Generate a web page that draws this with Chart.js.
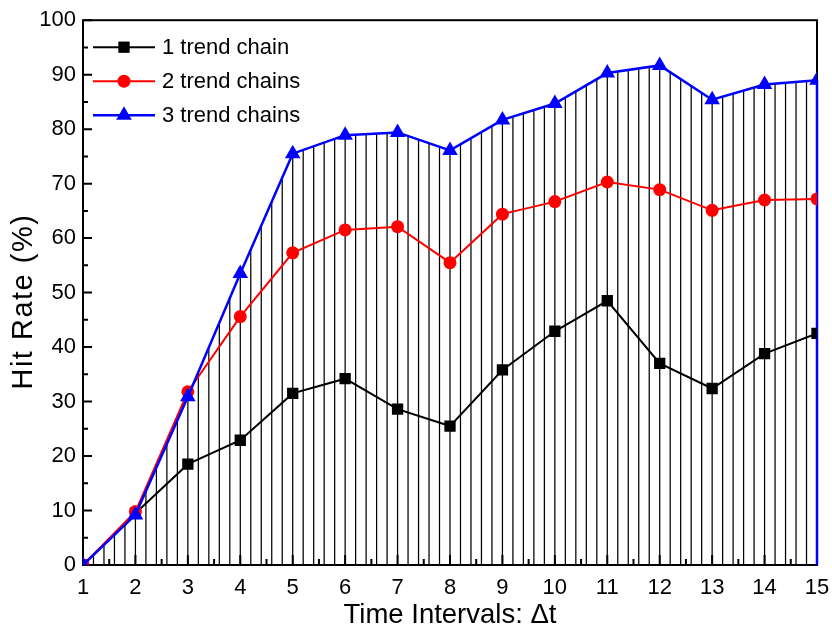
<!DOCTYPE html>
<html>
<head>
<meta charset="utf-8">
<script src="https://cdn.jsdelivr.net/npm/chart.js@4/dist/chart.umd.min.js"></script>
<style>
  html, body { margin: 0; padding: 0; background: #fff; }
  #wrap { width: 832px; height: 634px; }
</style>
</head>
<body>
<div id="wrap"><canvas id="hitChart" width="832" height="634"></canvas></div>
<script>
const intervals = [1, 2, 3, 4, 5, 6, 7, 8, 9, 10, 11, 12, 13, 14, 15];
const oneChain = [0, 9.5, 18.5, 22.9, 31.5, 34.2, 28.6, 25.5, 35.8, 42.9, 48.5, 37.0, 32.4, 38.8, 42.5];
const twoChains = [0, 9.8, 31.8, 45.6, 57.3, 61.5, 62.1, 55.5, 64.4, 66.7, 70.3, 68.9, 65.1, 67.0, 67.2];
const threeChains = [0, 9.2, 30.9, 53.5, 75.5, 78.9, 79.4, 76.1, 81.7, 84.7, 90.3, 91.7, 85.4, 88.2, 89.0];
const seriesNames = ["1 trend chain", "2 trend chains", "3 trend chains"];
const yTitle = "Hit Rate (%)";
const xTitle = "Time Intervals: Δt";

const FONT = "'Liberation Sans', Arial, sans-serif";
const hatchStep = 0.2;

function toPoints(values) {
  return values.map((v, i) => ({ x: intervals[i], y: v }));
}

// vertical hatching under the top series, then the boxed frame with inward ticks
const hatchAndFrame = {
  id: "hatchAndFrame",
  beforeDatasetsDraw(chart) {
    const ctx = chart.ctx;
    const area = chart.chartArea;
    const xs = chart.scales.x;
    const ys = chart.scales.y;
    const pts = chart.getDatasetMeta(2).data;
    const base = ys.getPixelForValue(0);

    ctx.save();
    ctx.beginPath();
    ctx.moveTo(pts[0].x, base);
    pts.forEach((p) => ctx.lineTo(p.x, p.y));
    ctx.lineTo(pts[pts.length - 1].x, base);
    ctx.closePath();
    ctx.clip();
    ctx.strokeStyle = "#000";
    ctx.lineWidth = 1.25;
    const n = Math.round((xs.max - xs.min) / hatchStep);
    ctx.beginPath();
    for (let k = 0; k <= n; k++) {
      const px = xs.getPixelForValue(xs.min + k * hatchStep);
      ctx.moveTo(px, area.top);
      ctx.lineTo(px, base);
    }
    ctx.stroke();
    ctx.restore();

    // frame
    ctx.save();
    ctx.strokeStyle = "#000";
    ctx.lineWidth = 2;
    ctx.strokeRect(area.left, area.top, area.right - area.left, area.bottom - area.top);

    // x ticks (inward)
    ctx.beginPath();
    for (let v = xs.min; v <= xs.max; v += 1) {
      const px = xs.getPixelForValue(v);
      ctx.moveTo(px, area.bottom);
      ctx.lineTo(px, area.bottom - 10);
      if (v + 0.5 < xs.max) {
        const pm = xs.getPixelForValue(v + 0.5);
        ctx.moveTo(pm, area.bottom);
        ctx.lineTo(pm, area.bottom - 6);
      }
    }
    // y ticks (inward)
    for (let v = ys.min; v <= ys.max; v += 10) {
      const py = ys.getPixelForValue(v);
      ctx.moveTo(area.left, py);
      ctx.lineTo(area.left + 9, py);
      if (v + 5 < ys.max) {
        const pm = ys.getPixelForValue(v + 5);
        ctx.moveTo(area.left, pm);
        ctx.lineTo(area.left + 5, pm);
      }
    }
    ctx.stroke();

    // right edge of the hatched region
    const last = pts[pts.length - 1];
    ctx.strokeStyle = "#0000ff";
    ctx.lineWidth = 2.5;
    ctx.beginPath();
    ctx.moveTo(last.x, last.y);
    ctx.lineTo(last.x, base);
    ctx.stroke();
    ctx.restore();
  }
};

// line + marker legend inside the plot, top left, and the y axis title
const boxLegend = {
  id: "boxLegend",
  afterDatasetsDraw(chart) {
    const ctx = chart.ctx;
    const area = chart.chartArea;
    ctx.save();
    chart.data.datasets.forEach((ds, i) => {
      const y = area.top + 27 + i * 34;
      const x0 = area.left + 10;
      const x1 = area.left + 72;
      ctx.strokeStyle = ds.borderColor;
      ctx.lineWidth = ds.borderWidth;
      ctx.beginPath();
      ctx.moveTo(x0, y);
      ctx.lineTo(x1, y);
      ctx.stroke();
      ctx.fillStyle = ds.pointBackgroundColor;
      ctx.strokeStyle = ds.borderColor;
      Chart.helpers.drawPoint(ctx, {
        pointStyle: ds.pointStyle,
        radius: ds.pointRadius,
        rotation: 0,
        borderWidth: 0
      }, (x0 + x1) / 2, y);
      ctx.fillStyle = "#000";
      ctx.font = "22px " + FONT;
      ctx.textBaseline = "middle";
      ctx.textAlign = "left";
      ctx.fillText(ds.label, x1 + 7, y + 1);
    });

    ctx.translate(24, (area.top + area.bottom) / 2 + 9);
    ctx.rotate(-Math.PI / 2);
    ctx.font = "29px " + FONT;
    ctx.letterSpacing = "1.5px";
    ctx.textAlign = "center";
    ctx.textBaseline = "middle";
    ctx.fillStyle = "#000";
    ctx.fillText(yTitle, 0, 0);
    ctx.restore();
  }
};

new Chart(document.getElementById("hitChart"), {
  type: "line",
  data: {
    datasets: [
      {
        label: seriesNames[0],
        data: toPoints(oneChain),
        borderColor: "#000000",
        backgroundColor: "#000000",
        pointBackgroundColor: "#000000",
        borderWidth: 2,
        pointStyle: "rect",
        pointRadius: 8,
        pointBorderWidth: 0,
        order: 2
      },
      {
        label: seriesNames[1],
        data: toPoints(twoChains),
        borderColor: "#ff0000",
        backgroundColor: "#ff0000",
        pointBackgroundColor: "#ff0000",
        borderWidth: 2,
        pointStyle: "circle",
        pointRadius: 6.5,
        pointBorderWidth: 0,
        order: 1
      },
      {
        label: seriesNames[2],
        data: toPoints(threeChains),
        borderColor: "#0000ff",
        backgroundColor: "#0000ff",
        pointBackgroundColor: "#0000ff",
        borderWidth: 2.5,
        pointStyle: "triangle",
        pointRadius: 9,
        pointBorderWidth: 0,
        order: 0
      }
    ]
  },
  options: {
    responsive: false,
    animation: false,
    layout: { padding: { left: 0, top: 20, right: 15, bottom: 0 } },
    plugins: {
      legend: { display: false },
      tooltip: { enabled: false }
    },
    elements: { line: { tension: 0 } },
    scales: {
      x: {
        type: "linear",
        min: 1,
        max: 15,
        grid: { display: false, drawTicks: false },
        border: { display: false },
        ticks: {
          stepSize: 1,
          padding: 10,
          color: "#000",
          font: { family: FONT, size: 22 }
        },
        title: {
          display: true,
          text: xTitle,
          color: "#000",
          font: { family: FONT, size: 27.5 },
          padding: { top: 0, bottom: 2 }
        },
        afterFit(scale) {
          scale.height = 69;
          scale.paddingLeft = 0;
          scale.paddingRight = 0;
        }
      },
      y: {
        min: 0,
        max: 100,
        grid: { display: false, drawTicks: false },
        border: { display: false },
        ticks: {
          stepSize: 10,
          padding: 7,
          color: "#000",
          font: { family: FONT, size: 22 }
        },
        afterFit(scale) { scale.width = 83; }
      }
    }
  },
  plugins: [hatchAndFrame, boxLegend]
});
</script>
</body>
</html>
